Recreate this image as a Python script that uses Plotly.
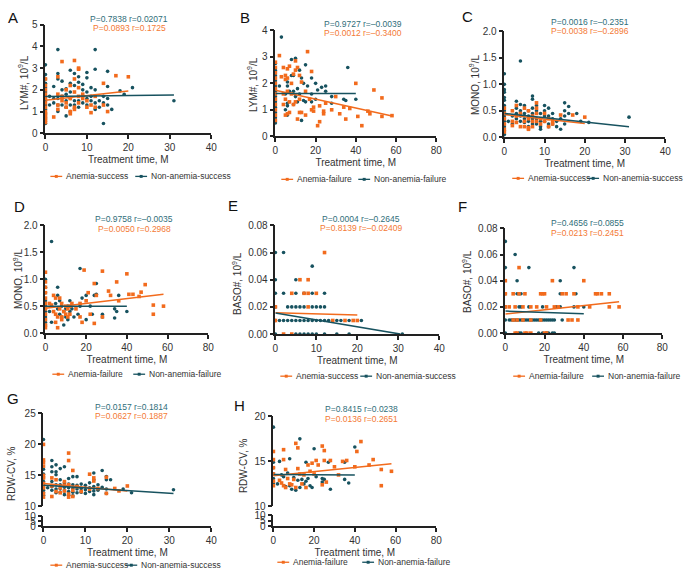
import plotly.graph_objects as go

W, H = 686, 580
ORANGE = "#F26B1D"
TEAL = "#17525F"
ORANGE_TXT = "#F47A35"
TEAL_TXT = "#2F6E7A"
FONT = "Liberation Sans, Arial, Helvetica, sans-serif"

# ---------------- data ----------------
# (treatment time in months, value)
A_anemia = [(0, 0.5), (0, 0.6), (0, 0.7), (0, 0.8), (0, 0.9), (0, 1.0), (0, 1.2), (0, 1.4), (0, 1.6), (0, 1.8),
            (0, 2.0), (0, 2.2), (0, 2.5), (2, 0.75), (3, 1.1), (3, 1.3), (3, 2.6), (3, 1.8), (4, 3.3), (4, 1.5),
            (4, 1.7), (5, 1.2), (5, 2.0), (5, 1.4), (6, 0.9), (6, 1.0), (6, 1.6), (6, 2.2), (7, 3.35), (7, 2.5),
            (7, 1.2), (7, 1.9), (7, 1.1), (8, 2.95), (8, 3.0), (8, 2.1), (8, 1.4), (8, 1.7), (9, 1.6), (9, 1.8),
            (10, 1.2), (10, 1.5), (11, 0.95), (11, 1.3), (12, 1.2), (12, 1.7), (14, 2.3), (14, 1.3), (15, 1.0),
            (17, 2.65), (20, 2.6)]
A_non = [(0, 3.15), (0, 2.7), (0, 2.5), (0, 2.3), (0, 2.1), (0, 1.9), (0, 1.7), (0, 1.5), (0, 1.3), (0, 1.1),
         (0, 0.9), (0, 0.7), (0, 0.45), (1, 1.7), (1, 1.3), (2, 2.15), (2, 1.4), (2, 1.6), (3, 2.75), (3, 2.5),
         (3, 1.6), (3, 1.3), (3, 1.0), (3, 3.85), (4, 2.4), (4, 2.0), (4, 1.7), (4, 1.3), (5, 2.05), (5, 1.8),
         (5, 1.5), (5, 1.2), (5, 0.8), (6, 2.9), (6, 2.3), (6, 1.9), (6, 1.6), (6, 1.3), (6, 1.0), (7, 2.75),
         (7, 2.2), (7, 1.5), (7, 1.3), (8, 2.6), (8, 2.35), (8, 1.5), (8, 1.2), (9, 2.25), (9, 2.0), (9, 1.7),
         (9, 1.4), (10, 2.8), (10, 2.55), (10, 1.9), (10, 1.6), (10, 1.3), (11, 2.1), (11, 1.7), (11, 1.5),
         (12, 3.85), (12, 2.95), (12, 2.0), (12, 1.4), (12, 1.1), (13, 1.5), (13, 1.2), (14, 0.45), (14, 1.4),
         (14, 1.7), (15, 2.85), (15, 2.15), (15, 1.6), (15, 1.3), (16, 1.1), (18, 1.95), (19, 1.8), (21, 2.1),
         (31, 1.5)]
A_fit_anemia = [(0, 1.52), (20, 1.95)]
A_fit_non = [(0, 1.69), (31, 1.76)]

B_anemia = [(0, 2.8), (0, 2.6), (0, 2.4), (0, 2.2), (0, 2.0), (0, 1.8), (0, 1.6), (0, 1.4), (0, 1.2), (0, 1.0),
            (0, 0.8), (0, 0.6), (2, 3.05), (3, 2.25), (4, 2.6), (4, 1.6), (4, 1.2), (5, 2.3), (5, 2.15), (5, 1.4),
            (5, 0.8), (6, 2.55), (6, 2.2), (6, 1.7), (6, 0.85), (7, 2.65), (7, 1.3), (7, 0.9), (8, 2.0), (8, 1.6),
            (9, 2.35), (9, 1.2), (10, 2.85), (10, 2.5), (10, 1.3), (11, 2.6), (11, 0.65), (12, 2.3), (12, 1.4),
            (12, 0.9), (13, 2.05), (13, 0.9), (15, 1.7), (15, 0.8), (16, 3.2), (17, 1.4), (18, 2.45), (18, 1.0),
            (19, 0.95), (19, 1.1), (21, 0.4), (22, 1.15), (22, 0.55), (24, 0.95), (24, 0.85), (25, 1.25),
            (28, 1.0), (30, 1.5), (32, 0.85), (34, 1.1), (35, 0.65), (37, 1.05), (40, 2.0), (41, 0.75), (43, 0.4),
            (46, 0.95), (47, 0.85), (49, 1.75), (53, 1.45), (53, 0.75), (58, 0.78)]
B_non = [(0, 2.75), (0, 2.5), (0, 2.3), (0, 2.1), (0, 1.9), (0, 1.7), (0, 1.5), (0, 1.3), (0, 1.1), (0, 0.9),
         (0, 0.7), (0, 0.5), (3, 3.75), (2, 1.9), (5, 1.6), (5, 1.0), (6, 2.05), (6, 1.9), (6, 1.25), (6, 1.15),
         (6, 0.8), (7, 1.7), (8, 2.9), (8, 2.3), (9, 2.3), (9, 1.7), (9, 1.2), (10, 2.95), (10, 1.5), (11, 1.8),
         (11, 1.3), (12, 2.5), (12, 1.6), (13, 2.2), (13, 0.6), (14, 1.35), (14, 2.0), (15, 2.7), (15, 1.3),
         (16, 1.9), (18, 2.2), (18, 1.3), (18, 1.6), (20, 2.0), (20, 1.4), (21, 1.75), (23, 1.85), (25, 1.9),
         (25, 1.7), (28, 1.25), (28, 1.5), (34, 1.4), (35, 1.35), (36, 2.6), (40, 1.4)]
B_fit_anemia = [(0, 1.74), (58, 0.77)]
B_fit_non = [(0, 1.62), (40, 1.62)]

C_anemia = [(0, 0.1), (0, 0.15), (0, 0.25), (0, 0.35), (0, 0.45), (0, 0.55), (2, 0.5), (2, 0.3), (2, 0.22),
            (3, 0.6), (3, 0.4), (3, 0.28), (4, 0.45), (4, 0.2), (5, 0.55), (5, 0.3), (5, 0.2), (6, 0.5), (6, 0.35),
            (6, 0.18), (6, 0.15), (7, 0.4), (7, 0.3), (7, 0.2), (8, 0.65), (8, 0.55), (8, 0.45), (8, 0.3),
            (9, 0.35), (9, 0.25), (10, 0.45), (10, 0.3), (11, 0.35), (11, 0.2), (12, 0.3), (12, 0.25), (14, 0.42),
            (17, 0.42), (20, 0.38)]
C_non = [(0, 1.2), (0, 1.0), (0, 0.9), (0, 0.85), (0, 0.75), (0, 0.7), (0, 0.6), (0, 0.5), (0, 0.45), (0, 0.4),
         (0, 0.35), (0, 0.3), (0, 0.2), (0, 0.12), (0, 0.05), (1, 0.3), (2, 0.4), (2, 0.25), (3, 0.68), (3, 0.55),
         (3, 0.45), (3, 0.35), (4, 1.44), (4, 0.62), (4, 0.5), (4, 0.4), (4, 0.3), (5, 0.6), (5, 0.45), (5, 0.35),
         (5, 0.28), (6, 0.5), (6, 0.4), (6, 0.3), (6, 0.2), (7, 0.78), (7, 0.72), (7, 0.55), (7, 0.45), (7, 0.35),
         (7, 0.25), (8, 0.6), (8, 0.5), (8, 0.35), (8, 0.25), (9, 0.45), (9, 0.3), (9, 0.2), (9, 0.15), (10, 0.6),
         (10, 0.5), (10, 0.4), (10, 0.3), (11, 0.55), (11, 0.4), (11, 0.25), (11, 0.2), (12, 0.45), (12, 0.35),
         (12, 0.25), (13, 0.3), (13, 0.2), (14, 0.35), (14, 0.15), (15, 0.65), (15, 0.5), (15, 0.4), (15, 0.25),
         (16, 0.58), (16, 0.45), (18, 0.45), (19, 0.3), (21, 0.28), (31, 0.38)]
C_fit_anemia = [(0, 0.43), (20, 0.26)]
C_fit_non = [(0, 0.45), (31, 0.2)]

D_anemia = [(0, 1.13), (0, 0.95), (0, 0.85), (0, 0.75), (0, 0.65), (0, 0.55), (0, 0.45), (0, 0.35), (0, 0.25),
            (0, 0.15), (0, 0.1), (2, 0.55), (3, 0.52), (4, 0.7), (4, 0.4), (5, 0.65), (5, 0.35), (5, 0.2),
            (6, 0.3), (6, 0.1), (7, 0.65), (7, 0.45), (8, 0.55), (8, 0.3), (8, 0.25), (9, 0.4), (10, 0.35),
            (10, 0.5), (11, 0.45), (11, 0.3), (12, 0.5), (12, 0.35), (13, 0.55), (15, 0.45), (17, 0.55), (17, 0.3),
            (18, 0.2), (19, 1.17), (20, 0.6), (21, 0.75), (22, 0.35), (24, 0.92), (24, 0.18), (25, 0.7),
            (28, 1.15), (28, 0.3), (31, 0.78), (32, 0.7), (35, 0.95), (36, 0.6), (40, 1.1), (41, 0.72), (43, 0.72),
            (46, 0.68), (47, 0.76), (49, 0.9), (53, 0.52), (53, 0.35), (58, 0.5)]
D_non = [(0, 1.0), (0, 0.85), (0, 0.75), (0, 0.6), (0, 0.5), (0, 0.4), (0, 0.3), (0, 0.2), (0, 0.15), (2, 0.4),
         (3, 1.7), (3, 0.2), (5, 0.55), (6, 0.45), (6, 0.85), (6, 0.7), (7, 0.6), (7, 0.35), (8, 0.5), (8, 0.3),
         (9, 0.15), (9, 0.4), (10, 0.45), (10, 0.3), (11, 0.5), (11, 0.25), (12, 0.6), (12, 0.4), (13, 0.45),
         (14, 0.3), (16, 0.35), (17, 1.2), (17, 0.5), (18, 0.65), (20, 0.7), (20, 0.25), (22, 0.5), (23, 0.35),
         (24, 0.7), (25, 0.92), (25, 0.72), (28, 0.35), (28, 0.3), (34, 0.45), (34, 0.28), (35, 0.4), (36, 0.7),
         (40, 0.4)]
D_fit_anemia = [(0, 0.46), (58, 0.72)]
D_fit_non = [(0, 0.5), (40, 0.5)]

E_anemia = [(0, 0.01), (0, 0.02), (2, 0.0), (4, 0.0), (4, 0.03), (6, 0.04), (7, 0.03), (8, 0.04), (8, 0.03),
            (8, 0.02), (10, 0.03), (12, 0.06), (14, 0.01), (17, 0.01), (19, 0.01), (20, 0.01)]
E_non = [(0, 0.06), (2, 0.06), (9, 0.05), (0, 0.04), (5, 0.04), (0, 0.03), (2, 0.03), (5, 0.03), (7, 0.03),
         (9, 0.03), (12, 0.03), (0, 0.02), (3, 0.02), (4, 0.02), (5, 0.02), (6, 0.02), (7, 0.02), (9, 0.02),
         (10, 0.02), (11, 0.02), (12, 0.02), (0, 0.01), (1, 0.01), (2, 0.01), (3, 0.01), (4, 0.01), (5, 0.01),
         (6, 0.01), (7, 0.01), (8, 0.01), (9, 0.01), (10, 0.01), (11, 0.01), (12, 0.01), (13, 0.01), (15, 0.01),
         (16, 0.01), (18, 0.01), (21, 0.01), (0, 0.0), (5, 0.0), (6, 0.0), (7, 0.0), (8, 0.0), (9, 0.0),
         (10, 0.0), (12, 0.0), (15, 0.0), (18, 0.0), (31, 0.0)]
E_fit_anemia = [(0, 0.0157), (20, 0.014)]
E_fit_non = [(0, 0.0155), (30.5, 0.0)]

F_anemia = [(0, 0.04), (0, 0.03), (0, 0.02), (7, 0.05), (24, 0.04), (40, 0.04), (4, 0.03), (7, 0.03), (10, 0.03),
            (18, 0.03), (19, 0.03), (20, 0.03), (29, 0.03), (31, 0.03), (35, 0.03), (46, 0.03), (47, 0.03),
            (49, 0.03), (53, 0.03), (2, 0.02), (5, 0.02), (9, 0.02), (13, 0.02), (16, 0.02), (21, 0.02),
            (25, 0.02), (27, 0.02), (37, 0.02), (43, 0.02), (53, 0.02), (58, 0.02), (4, 0.01), (6, 0.01),
            (9, 0.01), (13, 0.01), (18, 0.01), (32, 0.01), (34, 0.01), (37, 0.01), (5, 0.0), (6, 0.0), (10, 0.0),
            (11, 0.0), (13, 0.0), (20, 0.0), (21, 0.0)]
F_non = [(0, 0.07), (0, 0.05), (0, 0.03), (0, 0.02), (0, 0.01), (0, 0.0), (5, 0.06), (12, 0.05), (35, 0.05),
         (6, 0.04), (28, 0.04), (6, 0.03), (7, 0.03), (8, 0.03), (28, 0.03), (36, 0.03), (7, 0.02), (8, 0.02),
         (12, 0.02), (19, 0.02), (26, 0.02), (28, 0.02), (35, 0.02), (40, 0.02), (2, 0.01), (3, 0.01), (4, 0.01),
         (5, 0.01), (6, 0.01), (7, 0.01), (8, 0.01), (9, 0.01), (10, 0.01), (11, 0.01), (12, 0.01), (13, 0.01),
         (14, 0.01), (15, 0.01), (16, 0.01), (17, 0.01), (18, 0.01), (19, 0.01), (20, 0.01), (21, 0.01),
         (22, 0.01), (23, 0.01), (24, 0.01), (25, 0.01), (29, 0.01), (7, 0.0), (8, 0.0), (17, 0.0), (19, 0.0),
         (21, 0.0), (22, 0.0), (24, 0.0), (25, 0.0)]
F_fit_anemia = [(0, 0.0145), (58, 0.024)]
F_fit_non = [(0, 0.0168), (40, 0.0147)]

G_anemia = [(0, 20), (0, 17.5), (0, 17.1), (0, 16.5), (0, 15), (0, 14.6), (0, 13.7), (0, 13), (0, 12.1), (0, 11.5),
            (2, 11.6), (2, 13.3), (2, 14.6), (3, 12.4), (3, 14.3), (4, 12.2), (4, 13), (5, 14), (5, 12.5),
            (5, 13.4), (6, 18.6), (6, 17.4), (6, 12), (6, 11.5), (6, 13.5), (7, 15.8), (7, 11.6), (7, 12.6),
            (8, 13.2), (9, 12.4), (11, 15.2), (11, 12.8), (12, 14.6), (12, 14.1), (13, 12.9), (15, 12.1),
            (15, 14.7), (17, 12.9), (18, 12.5), (20, 13.3)]
G_non = [(0, 20.8), (0, 16), (0, 15.2), (0, 14.6), (0, 14), (0, 13.4), (0, 13), (0, 12.6), (0, 12.2), (0, 11.8),
         (1, 13), (2, 17.4), (2, 16.4), (2, 15.6), (2, 14), (2, 13.2), (2, 12.6), (3, 16.7), (3, 15.6), (3, 15.1),
         (3, 13.5), (3, 12.8), (3, 12.2), (4, 16.1), (4, 14.3), (4, 13.5), (4, 12.9), (4, 12.3), (5, 16.4),
         (5, 13.8), (5, 13.1), (5, 12.5), (5, 11.9), (6, 14.5), (6, 13.6), (6, 13), (6, 12.4), (6, 11.8),
         (7, 14.8), (7, 13.5), (7, 12.9), (7, 12.3), (7, 11.7), (8, 14.8), (8, 13.4), (8, 12.8), (8, 12.2),
         (9, 13.6), (9, 12.9), (9, 12.3), (10, 13.4), (10, 12.7), (10, 12.1), (11, 13.8), (11, 13), (11, 12.4),
         (12, 15.4), (12, 14.3), (12, 13.2), (12, 12.5), (12, 11.9), (13, 13.5), (13, 12.6), (14, 15.8),
         (14, 13.1), (15, 14.8), (15, 14.3), (15, 12.8), (15, 12.1), (16, 14.3), (19, 12.8), (21, 12.2),
         (31, 12.7)]
G_fit_anemia = [(0, 13.7), (20, 12.5)]
G_fit_non = [(0, 13.4), (31, 12.1)]

H_anemia = [(0, 16.1), (0, 15.2), (0, 14.3), (0, 13.6), (0, 12.8), (0, 12.3), (3, 12.9), (4, 12.6), (5, 16.3),
            (5, 15.2), (5, 12.3), (6, 14.1), (6, 12.1), (7, 13.1), (8, 12.5), (9, 12.4), (10, 13), (11, 17),
            (11, 12.1), (12, 16.5), (12, 14.2), (13, 13.6), (14, 12.5), (15, 13.5), (16, 12.1), (17, 14.6),
            (18, 13.9), (19, 14.8), (20, 13.6), (21, 15.1), (22, 14.6), (24, 16.7), (24, 12.4), (25, 16.2),
            (25, 15.1), (26, 12.7), (28, 15.1), (30, 14.4), (32, 13.5), (34, 15), (36, 15.1), (40, 14.4),
            (41, 16.1), (43, 17.2), (47, 14.6), (49, 15.2), (53, 14.1), (53, 12.3), (58, 13.9)]
H_non = [(0, 18.8), (0, 14.9), (0, 14.3), (0, 13.6), (0, 13.1), (0, 12.6), (2, 12.5), (3, 15), (4, 13.5),
         (5, 13.3), (6, 12.2), (7, 13.7), (8, 15.3), (8, 12.3), (9, 11.9), (10, 13.2), (11, 11.8), (12, 12.9),
         (13, 17.5), (13, 12.1), (14, 13), (15, 12.5), (16, 14.9), (16, 12.8), (17, 13.1), (18, 12.3), (19, 12.1),
         (20, 16.4), (21, 13.3), (24, 12.7), (24, 13.1), (25, 13), (27, 14.9), (28, 11.9), (35, 14.9), (35, 13),
         (37, 12.6), (40, 16.6)]
H_fit_anemia = [(0, 13.4), (58, 14.75)]
H_fit_non = [(0, 13.55), (40, 13.5)]

panel_letters = ["A", "B", "C", "D", "E", "F", "G", "H"]
y_titles = ["LYM#, 10<sup>9</sup>/L", "LYM#, 10<sup>9</sup>/L", "MONO, 10<sup>9</sup>/L", "MONO, 10<sup>9</sup>/L",
            "BASO#, 10<sup>9</sup>/L", "BASO#, 10<sup>9</sup>/L", "RDW-CV, %", "RDW-CV, %"]
x_title = "Treatment time, M"
stats_non = ["P=0.7838 r=0.02071", "P=0.9727 r=\u20130.0039", "P=0.0016 r=\u20130.2351", "P=0.9758 r=\u20130.0035",
             "P=0.0004 r=\u20130.2645", "P=0.4656 r=0.0855", "P=0.0157 r=0.1814", "P=0.8415 r=0.0238"]
stats_anemia = ["P=0.0893 r=0.1725", "P=0.0012 r=\u20130.3400", "P=0.0038 r=\u20130.2896", "P=0.0050 r=0.2968",
                "P=0.8139 r=\u20130.02409", "P=0.0213 r=0.2451", "P=0.0627 r=0.1887", "P=0.0136 r=0.2651"]
legend_success = ["Anemia-success", "Non-anemia-success"]
legend_failure = ["Anemia-failure", "Non-anemia-failure"]

# ---------------- layout config (positions in px) ----------------
cfg = [
    dict(an=A_anemia, nn=A_non, fa=A_fit_anemia, fn=A_fit_non, xr=[0, 40], xd=10, yr=[0, 5], yd=1, fmt="",
         box=(43, 211, 19, 130), lab=(10, 12), st=(128, 13), lg=(48, 134, 174), yt=(21, 78),
         names=legend_success),
    dict(an=B_anemia, nn=B_non, fa=B_fit_anemia, fn=B_fit_non, xr=[0, 80], xd=20, yr=[0, 4], yd=1, fmt="",
         box=(276, 439, 25, 133), lab=(245, 12), st=(365, 18), lg=(282, 360, 177), yt=(253, 80),
         names=legend_failure),
    dict(an=C_anemia, nn=C_non, fa=C_fit_anemia, fn=C_fit_non, xr=[0, 40], xd=10, yr=[0, 2], yd=0.5, fmt=".1f",
         box=(508, 671, 26, 134), lab=(471, 11), st=(595, 16), lg=(516, 592, 176), yt=(478, 81),
         names=legend_success),
    dict(an=D_anemia, nn=D_non, fa=D_fit_anemia, fn=D_fit_non, xr=[0, 80], xd=20, yr=[0, 2], yd=0.5, fmt=".1f",
         box=(43, 208, 224, 334), lab=(17, 205), st=(133, 218), lg=(50, 132, 376), yt=(15, 279),
         names=legend_failure),
    dict(an=E_anemia, nn=E_non, fa=E_fit_anemia, fn=E_fit_non, xr=[0, 40], xd=10, yr=[0, 0.08], yd=0.02, fmt=".2f",
         box=(276, 442, 224, 335), lab=(233, 204), st=(363, 217), lg=(281, 362, 378), yt=(237, 283),
         names=legend_success),
    dict(an=F_anemia, nn=F_non, fa=F_fit_anemia, fn=F_fit_non, xr=[0, 80], xd=20, yr=[0, 0.08], yd=0.02, fmt=".2f",
         box=(509, 668, 227, 334), lab=(466, 205), st=(592, 222), lg=(517, 597, 378), yt=(470, 281),
         names=legend_failure),
    dict(an=G_anemia, nn=G_non, fa=G_fit_anemia, fn=G_fit_non, xr=[0, 40], xd=10, yr=[10, 25], yd=5, fmt="",
         box=(41, 211, 416, 511), low=(521, 531), lab=(10, 401), st=(130, 409), lg=(48, 124, 571), yt=(8, 477),
         names=legend_success),
    dict(an=H_anemia, nn=H_non, fa=H_fit_anemia, fn=H_fit_non, xr=[0, 80], xd=20, yr=[10, 20], yd=5, fmt="",
         box=(274, 439, 419, 511), low=(520, 531), lab=(240, 408), st=(363, 412), lg=(278, 364, 568),
         yt=(243, 469), names=legend_failure),
]


def px_x(v):
    return v / W


def px_y(v):
    return 1 - v / H


fig = go.Figure()
layout = dict(width=W, height=H, margin=dict(l=0, r=0, t=0, b=0), paper_bgcolor="white",
              plot_bgcolor="white", showlegend=False, font=dict(family=FONT, color="#333"))
shapes, annots = [], []
AX_LINE = "#222"
tickfont = dict(family=FONT, size=10, color="#333")
extra_y = 9

for i, c in enumerate(cfg):
    n = i + 1
    xa, ya = f"x{n}", f"y{n}"
    l, r, t, b = c["box"]
    low = c.get("low")
    xkey, ykey = f"xaxis{n}", f"yaxis{n}"
    common = dict(showline=True, linecolor=AX_LINE, linewidth=1.5, ticks="outside", ticklen=4, tickwidth=1.5,
                  tickcolor=AX_LINE, showgrid=False, zeroline=False, tickfont=tickfont)
    if low:
        ly = f"y{extra_y}"
        layout[f"yaxis{extra_y}"] = dict(domain=[px_y(low[1]), px_y(low[0])], range=[0, 10],
                                         tickvals=[0, 5, 10], anchor=xa, **common)
        x_anchor = ly
        fig.add_trace(go.Scatter(x=[None], y=[None], xaxis=xa, yaxis=ly, showlegend=False, hoverinfo="skip"))
        extra_y += 1
    else:
        x_anchor = ya
    layout[xkey] = dict(domain=[px_x(l), px_x(r)], range=c["xr"], dtick=c["xd"], tick0=0, anchor=x_anchor,
                        title=dict(text=x_title, font=dict(size=10, color="#333"), standoff=4), **common)
    layout[ykey] = dict(domain=[px_y(b), px_y(t)], range=c["yr"], dtick=c["yd"], tick0=0, anchor=xa,
                        tickformat=c["fmt"], **common)

    for pts, col, sym in ((c["nn"], TEAL, "circle"), (c["an"], ORANGE, "square")):
        fig.add_trace(go.Scatter(x=[p[0] for p in pts], y=[p[1] for p in pts], mode="markers",
                                 marker=dict(color=col, size=3.6, symbol=sym, line=dict(width=0)),
                                 xaxis=xa, yaxis=ya, cliponaxis=False, showlegend=False))
    for fit, col in ((c["fa"], ORANGE), (c["fn"], TEAL)):
        fig.add_trace(go.Scatter(x=[p[0] for p in fit], y=[p[1] for p in fit], mode="lines",
                                 line=dict(color=col, width=1.5), xaxis=xa, yaxis=ya, cliponaxis=False,
                                 showlegend=False))

    # y-axis title
    tx_, ty_ = c["yt"]
    annots.append(dict(text=y_titles[i], x=px_x(tx_), y=px_y(ty_), xref="paper", yref="paper", showarrow=False,
                       textangle=-90, xanchor="center", yanchor="middle",
                       font=dict(size=10, color="#333", family=FONT)))
    # panel letter
    lx, lyy = c["lab"]
    annots.append(dict(text=panel_letters[i], x=px_x(lx), y=px_y(lyy), xref="paper", yref="paper",
                       showarrow=False, xanchor="center", yanchor="middle",
                       font=dict(size=15, color="#111", family=FONT)))
    # stats text
    sx, sy = c["st"]
    annots.append(dict(text=stats_non[i], x=px_x(sx), y=px_y(sy), xref="paper", yref="paper", showarrow=False,
                       xanchor="center", yanchor="middle", font=dict(size=8.5, color=TEAL_TXT, family=FONT)))
    annots.append(dict(text=stats_anemia[i], x=px_x(sx), y=px_y(sy + 9.5), xref="paper", yref="paper",
                       showarrow=False, xanchor="center", yanchor="middle",
                       font=dict(size=8.5, color=ORANGE_TXT, family=FONT)))
    # legend (custom, compact)
    ox, tx, gy = c["lg"]
    for x0, col, name in ((ox, ORANGE, c["names"][0]), (tx, TEAL, c["names"][1])):
        shapes.append(dict(type="line", xref="paper", yref="paper", x0=px_x(x0), x1=px_x(x0 + 12),
                           y0=px_y(gy), y1=px_y(gy), line=dict(color=col, width=1.3)))
        shapes.append(dict(type="rect", xref="paper", yref="paper", x0=px_x(x0 + 4.5), x1=px_x(x0 + 7.5),
                           y0=px_y(gy + 1.5), y1=px_y(gy - 1.5), line=dict(width=0), fillcolor=col))
        annots.append(dict(text=name, x=px_x(x0 + 14), y=px_y(gy), xref="paper", yref="paper", showarrow=False,
                           xanchor="left", yanchor="middle", font=dict(size=8.5, color="#333", family=FONT)))

layout["shapes"] = shapes
layout["annotations"] = annots
fig.update_layout(**layout)
fig.write_html("out.html", config={"displayModeBar": False},
               post_script="document.body.style.margin='0';document.body.style.padding='0';")
